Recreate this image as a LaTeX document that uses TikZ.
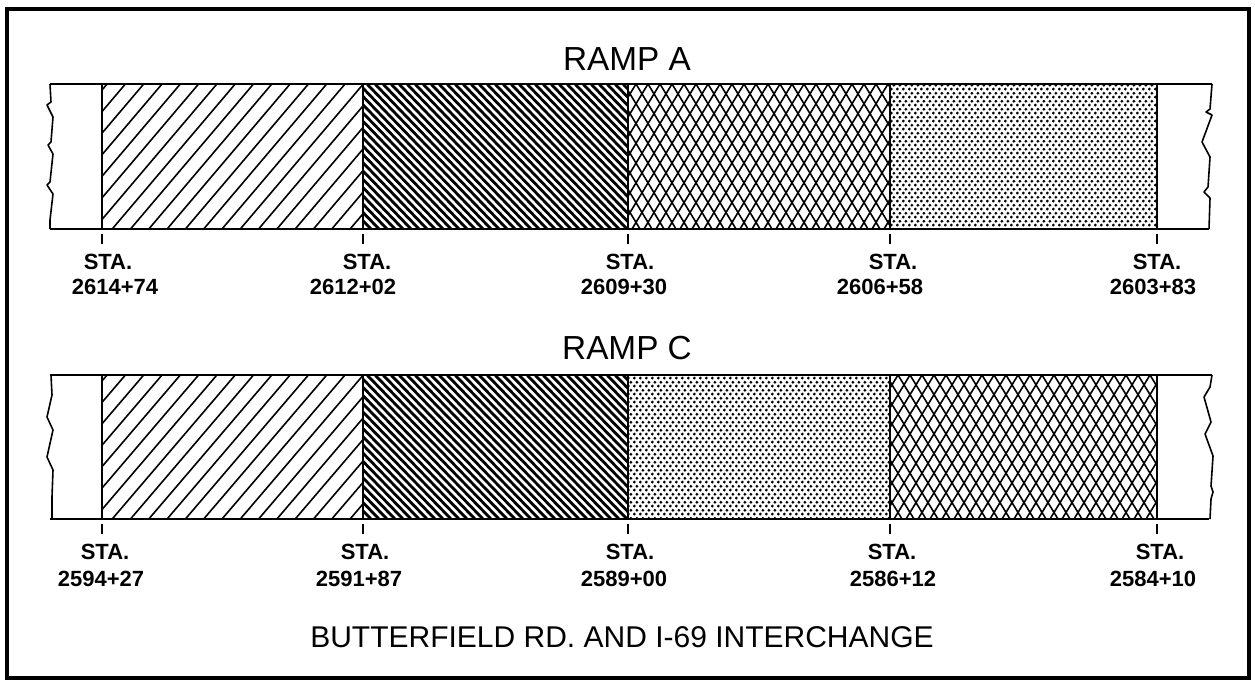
\documentclass[tikz,border=0pt]{standalone}
\usepackage{fontspec}
\setmainfont{Liberation Sans}
\usetikzlibrary{patterns.meta}
\tikzdeclarepattern{
  name=rsdots,
  type=uncolored,
  bottom left={(0pt,0pt)},
  top right={(4.2pt,6.2pt)},
  tile size={(4.2pt,6.2pt)},
  code={
    \pgfpathcircle{\pgfpoint{1.05pt}{1.55pt}}{1.25pt}
    \pgfpathcircle{\pgfpoint{3.15pt}{4.65pt}}{1.25pt}
    \pgfusepath{fill}
  }
}
% #1 x1, #2 x2, #3 top, #4 bottom, #5 spacing, #6 run, #7 style
\newcommand\rsHatch[7]{%
  \begin{scope}
    \clip (#1,#3) rectangle (#2,#4);
    \pgfmathtruncatemacro\rsN{(#2-#1+2*abs(#6))/#5+1}
    \foreach \k in {0,...,\rsN}
      \draw[#7] ({#1-abs(#6)+\k*#5},#3) -- ++(#6,#4-#3);
  \end{scope}}
\newcommand\rsDots[4]{%
  \fill[pattern=rsdots, pattern color=black] (#1,#3) rectangle (#2,#4);}
\newcommand\rsSparse[4]{\rsHatch{#1}{#2}{#3}{#4}{18.3}{-123}{sparse}}
\newcommand\rsDense[4]{\rsHatch{#1}{#2}{#3}{#4}{8}{140}{dense}}
\newcommand\rsCross[4]{\rsHatch{#1}{#2}{#3}{#4}{12}{88}{cross}\rsHatch{#1}{#2}{#3}{#4}{12}{-88}{cross}}
\begin{document}
\begin{tikzpicture}[x=0.75pt,y=-0.75pt,
  frame/.style={line width=2.4pt},
  bar/.style={line width=1.6pt},
  divider/.style={line width=1.7pt},
  breakline/.style={line width=1.2pt, line join=round},
  sparse/.style={line width=1.2pt},
  dense/.style={line width=2.1pt},
  cross/.style={line width=1.2pt},
  tickmark/.style={line width=1.1pt},
  lab/.style={font=\fontsize{16.5}{17}\selectfont\bfseries, inner sep=0pt},
  title/.style={font=\fontsize{25}{26}\selectfont, inner sep=0pt},
  subtitle/.style={font=\fontsize{22.5}{23}\selectfont, inner sep=0pt}]
\useasboundingbox (0,0) rectangle (1255,681);
\draw[frame] (7,9) rectangle (1249,678);

% ---------------- RAMP A ----------------
\node[title] (rampA) at (627,59) {RAMP A};
\rsSparse{102}{363}{84}{229}
\rsDense{363}{628}{84}{229}
\rsCross{628}{890}{84}{229}
\rsDots{890}{1157}{84}{229}
\draw[bar] (50,84) -- (1212,84);
\draw[bar] (50,229) -- (1209,229);
\draw[breakline] (50,84) -- ++(1,18) -- ++(-4,3) -- ++(6,12) -- ++(-2,25) -- ++(-3,3) -- ++(5,9) -- ++(-3,28) -- ++(-3,3) -- ++(6,9) -- ++(-3,26) -- (50,229);
\draw[breakline] (1212,84) -- ++(-2,25) -- ++(-4,3) -- ++(6,3) -- ++(-10,27) -- ++(8,15) -- ++(-2,30) -- ++(-4,5) -- ++(6,6) -- (1209,229);
\foreach \x in {102,363,628,890,1157} \draw[divider] (\x,84) -- (\x,229);
\foreach \x in {102,363,628,890,1157} \draw[tickmark] (\x,234) -- (\x,244);
\node[lab] (a1s) at (108,262) {STA.};
\node[lab] (a1n) at (115,287) {2614+74};
\node[lab] (a2s) at (367,262) {STA.};
\node[lab] (a2n) at (353,287) {2612+02};
\node[lab] (a3s) at (630,262) {STA.};
\node[lab] (a3n) at (624,287) {2609+30};
\node[lab] (a4s) at (893,262) {STA.};
\node[lab] (a4n) at (880,287) {2606+58};
\node[lab] (a5s) at (1157,262) {STA.};
\node[lab] (a5n) at (1153,287) {2603+83};

% ---------------- RAMP C ----------------
\node[title] (rampC) at (627,348) {RAMP C};
\rsSparse{102}{363}{375}{519}
\rsDense{363}{628}{375}{519}
\rsDots{628}{890}{375}{519}
\rsCross{890}{1157}{375}{519}
\draw[bar] (50,375) -- (1212,375);
\draw[bar] (50,519) -- (1209,519);
\draw[breakline] (51,375) -- ++(1,20) -- ++(-5,22) -- ++(6,13) -- ++(-6,27) -- ++(6,13) -- ++(-1,27) -- (52,519);
\draw[breakline] (1212,375) -- ++(-2,12) -- ++(-6,10) -- ++(7,25) -- ++(-6,12) -- ++(8,22) -- ++(-2,30) -- ++(2,6) -- ++(-2,7) -- (1210,519);
\foreach \x in {102,363,628,890,1157} \draw[divider] (\x,375) -- (\x,519);
\foreach \x in {102,363,628,890,1157} \draw[tickmark] (\x,524) -- (\x,534);
\node[lab] (c1s) at (105,552) {STA.};
\node[lab] (c1n) at (101,579) {2594+27};
\node[lab] (c2s) at (365,552) {STA.};
\node[lab] (c2n) at (359,579) {2591+87};
\node[lab] (c3s) at (630,552) {STA.};
\node[lab] (c3n) at (624,579) {2589+00};
\node[lab] (c4s) at (892,552) {STA.};
\node[lab] (c4n) at (893,579) {2586+12};
\node[lab] (c5s) at (1160,552) {STA.};
\node[lab] (c5n) at (1153,579) {2584+10};

\node[subtitle] (caption) at (622,637) {BUTTERFIELD RD. AND I-69 INTERCHANGE};
\end{tikzpicture}
\end{document}
